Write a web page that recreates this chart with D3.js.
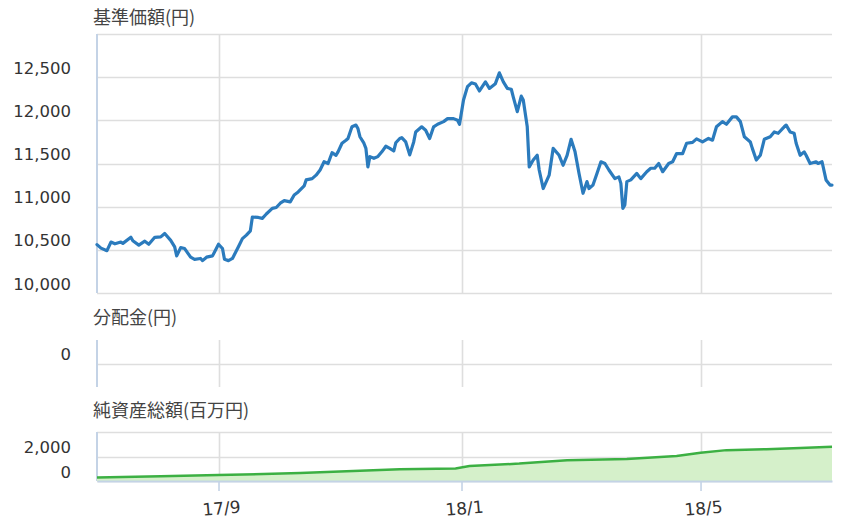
<!DOCTYPE html>
<html>
<head>
<meta charset="utf-8">
<script src="https://cdn.jsdelivr.net/npm/d3@7"></script>
<style>
body { margin: 0; background: #fff; }
text { font-family: "DejaVu Sans", sans-serif; }
.title { font-family: "Noto Sans CJK JP", sans-serif; font-size: 18px; fill: #444; }
.ylab text { font-size: 16.5px; fill: #333; }
.xlab text { font-size: 17px; fill: #333; }
</style>
</head>
<body>
<svg id="chart" width="853" height="520"></svg>
<script>
var parseDate = d3.timeParse("%Y-%m-%d");
var formatTick = d3.timeFormat("%y/%-m");
var formatNum = d3.format(",");

// 基準価額 (円)
var navDates = [
  "2017-07-02","2017-07-04","2017-07-07","2017-07-09","2017-07-11","2017-07-14","2017-07-15","2017-07-19",
  "2017-07-20","2017-07-23","2017-07-26","2017-07-28","2017-07-31","2017-08-03","2017-08-05","2017-08-08",
  "2017-08-10","2017-08-11","2017-08-13","2017-08-15","2017-08-18","2017-08-20","2017-08-23","2017-08-24",
  "2017-08-26","2017-08-29","2017-09-01","2017-09-03","2017-09-04","2017-09-06","2017-09-08","2017-09-11",
  "2017-09-13","2017-09-15","2017-09-17","2017-09-18","2017-09-21","2017-09-23","2017-09-25","2017-09-28",
  "2017-09-30","2017-10-02","2017-10-04","2017-10-07","2017-10-09","2017-10-11","2017-10-14","2017-10-15",
  "2017-10-18","2017-10-20","2017-10-22","2017-10-24","2017-10-26","2017-10-28","2017-10-30","2017-10-31",
  "2017-11-02","2017-11-04","2017-11-05","2017-11-07","2017-11-09","2017-11-10","2017-11-11","2017-11-13",
  "2017-11-14","2017-11-15","2017-11-16","2017-11-18","2017-11-20","2017-11-22","2017-11-24","2017-11-26",
  "2017-11-28","2017-11-29","2017-12-01","2017-12-02","2017-12-04","2017-12-06","2017-12-08","2017-12-09",
  "2017-12-12","2017-12-14","2017-12-16","2017-12-18","2017-12-20","2017-12-23","2017-12-25","2017-12-28",
  "2017-12-30","2017-12-31","2018-01-02","2018-01-04","2018-01-06","2018-01-08","2018-01-10","2018-01-13",
  "2018-01-15","2018-01-18","2018-01-20","2018-01-22","2018-01-24","2018-01-26","2018-01-27","2018-01-29",
  "2018-01-31","2018-02-01","2018-02-03","2018-02-04","2018-02-06","2018-02-08","2018-02-09","2018-02-11",
  "2018-02-14","2018-02-16","2018-02-19","2018-02-21","2018-02-23","2018-02-25","2018-02-27","2018-03-01",
  "2018-03-03","2018-03-05","2018-03-06","2018-03-08","2018-03-10","2018-03-12","2018-03-14","2018-03-16",
  "2018-03-19","2018-03-21","2018-03-22","2018-03-23","2018-03-24","2018-03-25","2018-03-27","2018-03-30",
  "2018-04-01","2018-04-04","2018-04-06","2018-04-08","2018-04-10","2018-04-12","2018-04-15","2018-04-17",
  "2018-04-19","2018-04-22","2018-04-24","2018-04-27","2018-04-29","2018-05-02","2018-05-05","2018-05-07",
  "2018-05-09","2018-05-12","2018-05-14","2018-05-17","2018-05-19","2018-05-21","2018-05-23","2018-05-26",
  "2018-05-27","2018-05-29","2018-05-31","2018-06-02","2018-06-05","2018-06-07","2018-06-09","2018-06-12",
  "2018-06-13","2018-06-15","2018-06-17","2018-06-18","2018-06-20","2018-06-22","2018-06-23","2018-06-25",
  "2018-06-28","2018-06-29","2018-07-01","2018-07-03","2018-07-05","2018-07-06"
];
var navValues = [
  10560,10520,10490,10590,10570,10590,10575,10645,
  10605,10555,10600,10565,10645,10650,10690,10610,
  10535,10430,10525,10515,10415,10390,10400,10375,
  10415,10430,10565,10515,10390,10375,10400,10535,
  10630,10670,10720,10880,10875,10865,10915,10980,
  10990,11040,11070,11055,11135,11170,11240,11310,
  11325,11365,11425,11520,11500,11625,11595,11635,
  11735,11770,11790,11925,11945,11905,11810,11735,
  11675,11460,11580,11560,11580,11635,11700,11675,
  11645,11740,11790,11800,11750,11600,11750,11865,
  11925,11885,11790,11925,11955,11985,12020,12020,
  12000,11955,12235,12390,12435,12420,12340,12445,
  12370,12425,12550,12445,12370,12360,12270,12100,
  12280,12235,11925,11460,11540,11595,11425,11210,
  11365,11675,11595,11480,11595,11780,11635,11385,
  11155,11290,11210,11250,11385,11520,11500,11425,
  11325,11345,11270,10980,11020,11290,11310,11385,
  11325,11405,11445,11445,11500,11405,11500,11520,
  11615,11615,11735,11745,11785,11750,11790,11770,
  11925,11985,11955,12040,12040,11985,11810,11750,
  11675,11540,11595,11780,11810,11865,11850,11925,
  11945,11865,11850,11735,11595,11635,11595,11500,
  11520,11500,11520,11310,11250,11250
];
var navTicks = [10000, 10500, 11000, 11500, 12000, 12500];
var navGrid = [10000, 10500, 11000, 11500, 12000, 12500, 13000];

// 分配金 (円)
var divTicks = [0];

// 純資産総額 (百万円)
var assetDates = [
  "2017-07-02","2017-08-03","2017-09-01","2017-10-12","2017-12-01","2017-12-29","2018-01-05",
  "2018-01-30","2018-02-23","2018-03-25","2018-04-19","2018-05-01","2018-05-14","2018-06-03",
  "2018-06-20","2018-07-06"
];
var assetValues = [290, 380, 480, 650, 950, 1030, 1220, 1420, 1700, 1800, 2040, 2300, 2520, 2600, 2700, 2800];
var assetTicks = [0, 2000];
var assetGrid = [0, 2000, 4000];

var xTickDates = ["2017-09-01", "2018-01-01", "2018-05-01"];

var navData = navDates.map(function (d, i) { return {date: parseDate(d), value: navValues[i]}; });
var assetData = assetDates.map(function (d, i) { return {date: parseDate(d), value: assetValues[i]}; });
var xTicks = xTickDates.map(parseDate);

var left = 97, right = 832;

var svg = d3.select("#chart");

var x = d3.scaleTime()
    .domain([parseDate("2017-07-02"), parseDate("2018-07-06")])
    .range([left, right]);

var yNav = d3.scaleLinear().domain([10000, 13000]).range([293, 34]);
var yDiv = d3.scaleLinear().domain([-1, 1]).range([387, 340]);
var yAsset = d3.scaleLinear().domain([0, 4000]).range([481, 432]);

function drawFrame(y, grid, ticks, title, titleY) {
    var top = y.range()[1], bottom = y.range()[0];

    svg.append("text")
        .attr("class", "title")
        .attr("x", 93)
        .attr("y", titleY)
        .text(title);

    var g = svg.append("g");

    // horizontal grid
    g.selectAll(".hgrid")
        .data(grid)
        .enter().append("line")
        .attr("x1", left).attr("x2", right)
        .attr("y1", function (d) { return Math.round(y(d)) + 0.5; })
        .attr("y2", function (d) { return Math.round(y(d)) + 0.5; })
        .attr("stroke", "#dedede")
        .attr("stroke-width", 1.6);

    // vertical grid
    g.selectAll(".vgrid")
        .data(xTicks)
        .enter().append("line")
        .attr("x1", function (d) { return Math.round(x(d)) + 0.5; })
        .attr("x2", function (d) { return Math.round(x(d)) + 0.5; })
        .attr("y1", top).attr("y2", bottom)
        .attr("stroke", "#dedede")
        .attr("stroke-width", 1.6);

    // left axis line
    g.append("line")
        .attr("x1", left).attr("x2", left)
        .attr("y1", top).attr("y2", bottom)
        .attr("stroke", "#c4d3e6")
        .attr("stroke-width", 2);

    // labels
    var axis = d3.axisLeft(y)
        .tickValues(ticks)
        .tickSize(0)
        .tickPadding(26)
        .tickFormat(formatNum);

    var ga = svg.append("g")
        .attr("class", "ylab")
        .attr("transform", "translate(" + left + ",0)")
        .call(axis);
    ga.select(".domain").remove();
    ga.selectAll("text").attr("dy", null).attr("y", -4);
}

drawFrame(yNav, navGrid, navTicks, "基準価額(円)", 24);
drawFrame(yDiv, [0], divTicks, "分配金(円)", 324);
drawFrame(yAsset, assetGrid, assetTicks, "純資産総額(百万円)", 417);

// NAV line
var navLine = d3.line()
    .x(function (d) { return x(d.date); })
    .y(function (d) { return yNav(d.value); });

svg.append("path")
    .datum(navData)
    .attr("d", navLine)
    .attr("fill", "none")
    .attr("stroke", "#2b7bbd")
    .attr("stroke-width", 3.2)
    .attr("stroke-linejoin", "round")
    .attr("stroke-linecap", "round");

// net assets area
var assetArea = d3.area()
    .x(function (d) { return x(d.date); })
    .y0(yAsset(0))
    .y1(function (d) { return yAsset(d.value); });

var assetLine = d3.line()
    .x(function (d) { return x(d.date); })
    .y(function (d) { return yAsset(d.value); });

svg.append("path")
    .datum(assetData)
    .attr("d", assetArea)
    .attr("fill", "#d5f0ca");

svg.append("path")
    .datum(assetData)
    .attr("d", assetLine)
    .attr("fill", "none")
    .attr("stroke", "#3cb043")
    .attr("stroke-width", 2.5);

// bottom x axis
var xAxis = d3.axisBottom(x)
    .tickValues(xTicks)
    .tickSize(10)
    .tickSizeOuter(0)
    .tickPadding(8)
    .tickFormat(formatTick);

var gx = svg.append("g")
    .attr("class", "xlab")
    .attr("transform", "translate(0," + 481 + ")")
    .call(xAxis);
gx.select(".domain")
    .attr("stroke", "#c4d3e6")
    .attr("stroke-width", 2);
gx.selectAll(".tick line")
    .attr("stroke", "#c4d3e6")
    .attr("stroke-width", 1.6);
gx.selectAll("text")
    .attr("dy", "0.9em")
    .attr("transform", "rotate(-5)");
</script>
</body>
</html>
